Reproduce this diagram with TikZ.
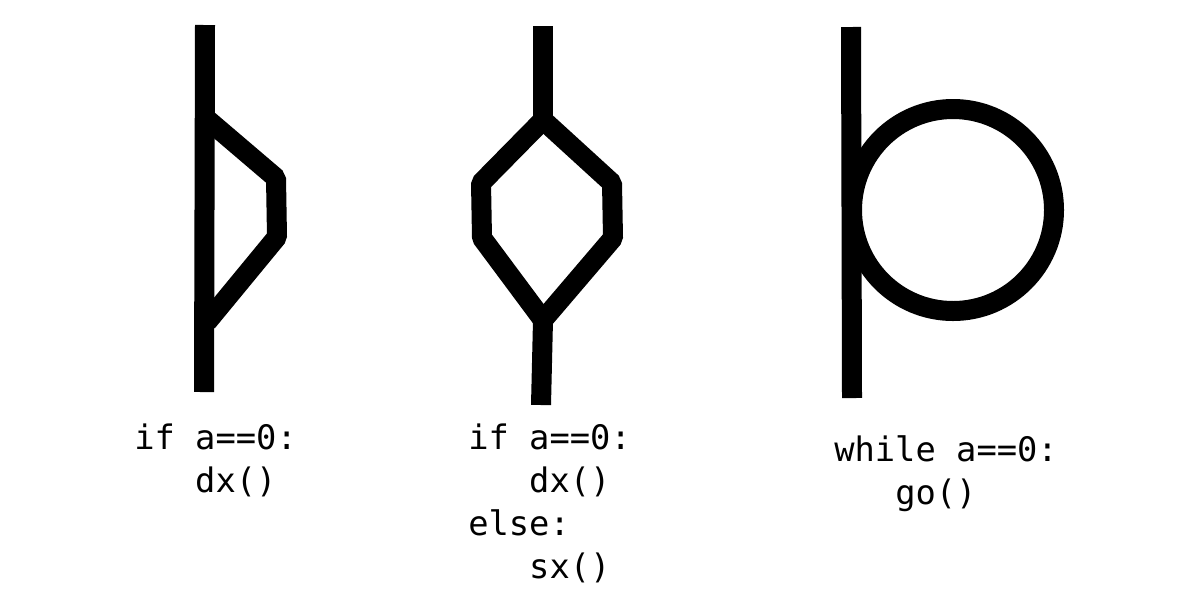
\documentclass[tikz,border=0pt]{standalone}
\usepackage{fontspec}
\setmonofont{DejaVu Sans Mono}

\tikzset{
    wire/.style={line width=20*0.025cm, line cap=butt, line join=bevel},  % thick black strokes
    code/.style={font=\ttfamily\fontsize{24}{30.5}\selectfont, align=left, anchor=north west, inner sep=0pt}  % code text
}

\begin{document}
\begin{tikzpicture}[x=0.025cm, y=-0.025cm]  % Begins a TikZ picture environment, units in pixels
    \useasboundingbox (0,0) rectangle (1200,600);  % Fixes the page size

    % If branch
    \coordinate (ifTop) at (205,25);  % Top end of the main line
    \coordinate (ifBot) at (204,392);  % Bottom end of the main line
    \coordinate (ifOut) at (208,120);  % Where the branch leaves
    \coordinate (ifA) at (276,178);  % Upper corner of the branch
    \coordinate (ifB) at (277,237);  % Lower corner of the branch
    \coordinate (ifIn) at (207,322);  % Where the branch comes back
    \draw[wire] (ifTop) -- (ifBot);  % Main line
    \draw[wire] (ifOut) -- (ifA) -- (ifB) -- (ifIn);  % Branch
    \node[code] (ifText) at (134,424) {if a==0:\\\ \ \ dx()};  % Code under the if

    % If-else branch
    \coordinate (elTop) at (543,26);  % Top end
    \coordinate (elSplit) at (543,120);  % Where the two ways part
    \coordinate (elLA) at (481,183);  % Left upper corner
    \coordinate (elLB) at (482,238);  % Left lower corner
    \coordinate (elRA) at (612,183);  % Right upper corner
    \coordinate (elRB) at (613,238);  % Right lower corner
    \coordinate (elJoin) at (543,320);  % Where the two ways meet
    \coordinate (elBot) at (541,405);  % Bottom end
    \draw[wire] (elTop) -- (elSplit);  % Line in
    \draw[wire] (elSplit) -- (elLA) -- (elLB) -- (elJoin);  % Left way
    \draw[wire] (elSplit) -- (elRA) -- (elRB) -- (elJoin);  % Right way
    \draw[wire] (elJoin) -- (elBot);  % Line out
    \node[code] (elText) at (468,424) {if a==0:\\\ \ \ dx()\\else:\\\ \ \ sx()};  % Code under the if-else

    % While loop
    \coordinate (whTop) at (851,27);  % Top end of the main line
    \coordinate (whBot) at (852,398);  % Bottom end of the main line
    \coordinate (whMid) at (953,210);  % Centre of the loop
    \draw[wire] (whTop) -- (whBot);  % Main line
    \draw[wire] (whMid) circle[radius=101];  % Loop
    \node[code] (whText) at (834,435) {while a==0:\\\ \ \ go()};  % Code under the while
\end{tikzpicture}
\end{document}
